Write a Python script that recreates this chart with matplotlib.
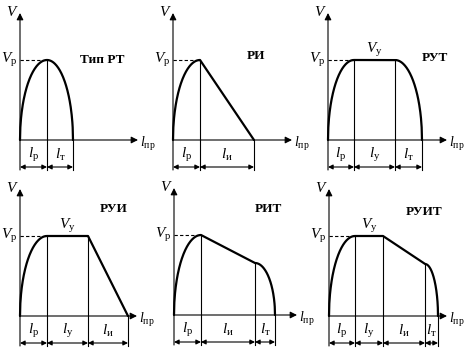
import numpy as np
import matplotlib
matplotlib.use('Agg')
import matplotlib.pyplot as plt

plt.rcParams['font.family'] = ['Liberation Serif', 'DejaVu Serif']
plt.rcParams['mathtext.fontset'] = 'custom'
plt.rcParams['mathtext.rm'] = 'Liberation Serif'
plt.rcParams['mathtext.it'] = 'Liberation Serif:italic'

# profile data (lengths in drawing units, V_p = 80)
titles = ['Тип РТ', 'РИ', 'РУТ', 'РУИ', 'РИТ', 'РУИТ']
phases = [['р', 'т'], ['р', 'и'], ['р', 'у', 'т'], ['р', 'у', 'и'],
          ['р', 'и', 'т'], ['р', 'у', 'и', 'т']]
lengths = [[27, 26], [27, 54], [26, 41, 27], [27, 41, 40],
           [27, 54, 20], [26, 28, 42, 13]]
v_p = 80
v_inertia_end = [None, 0, None, 0, 52, 52]
x_axis_len = [118, 119, 119, 117, 123, 118]
y_axis_len = 127

# layout: pixel origin of each panel, title position
origins = [(20, 140), (173, 140), (328, 140), (20, 316), (174, 315), (329, 316)]
title_pos = [(82, 80), (83, 84), (107, 82), (94, 107), (94, 106), (95, 104)]

W, H = 468, 352
fig = plt.figure(figsize=(W / 100, H / 100), dpi=100)

for i in range(6):
    ox, oy = origins[i]
    ax = fig.add_axes([(ox - 20) / W, (H - (oy + 40)) / H, 170 / W, 180 / H])
    ax.set_xlim(-20, 150)
    ax.set_ylim(-40, 140)
    ax.axis('off')
    ax.patch.set_alpha(0)

    xs, ys = [], []
    bounds = [0]
    vtop = []
    x0, v = 0, 0
    for ph, L in zip(phases[i], lengths[i]):
        t = np.linspace(0, 1, 80)
        if ph == 'р':
            y = v_p * np.sqrt(1 - (1 - t) ** 2)
            v = v_p
        elif ph == 'у':
            y = np.full_like(t, v)
        elif ph == 'и':
            ve = v_inertia_end[i]
            y = v + (ve - v) * t
            v = ve
        else:
            y = v * np.sqrt(1 - t ** 2)
            v = 0
        xs.append(x0 + L * t)
        ys.append(y)
        x0 += L
        bounds.append(x0)
        vtop.append(v)
    xs = np.concatenate(xs)
    ys = np.concatenate(ys)
    ax.plot(xs, ys, color='k', lw=1.6, solid_capstyle='round', zorder=3)

    # axes with arrows
    ax.annotate('', xy=(x_axis_len[i], 0), xytext=(0, 0),
                arrowprops=dict(arrowstyle='-|>', color='k', lw=0.8,
                                mutation_scale=10, shrinkA=0, shrinkB=0))
    ax.annotate('', xy=(0, y_axis_len), xytext=(0, -30),
                arrowprops=dict(arrowstyle='-|>', color='k', lw=0.8,
                                mutation_scale=10, shrinkA=0, shrinkB=0))

    # boundary lines
    for b, vt in zip(bounds[1:], vtop):
        ax.plot([b, b], [vt, -30], color='k', lw=0.8)

    # dashed V_p level
    ax.plot([0, lengths[i][0]], [v_p, v_p], color='k', lw=0.8, ls=(0, (3, 2)))

    # dimension arrows and labels
    for a, b, ph in zip(bounds[:-1], bounds[1:], phases[i]):
        ax.annotate('', xy=(b, -27), xytext=(a, -27),
                    arrowprops=dict(arrowstyle='<|-|>', color='k', lw=0.8,
                                    mutation_scale=7, shrinkA=0, shrinkB=0))
        ax.text((a + b) / 2, -15, r'$l_{\mathrm{%s}}$' % ph, fontsize=11,
                ha='center', va='center')

    # plateau speed label
    if 'у' in phases[i]:
        k = phases[i].index('у')
        ax.text((bounds[k] + bounds[k + 1]) / 2, v_p + 10, r'$V_{\mathrm{у}}$',
                fontsize=11, ha='center', va='center')

    ax.text(-3, v_p, r'$V_{\mathrm{р}}$', fontsize=11, ha='right', va='center')
    ax.text(-8, y_axis_len + 1, r'$V$', fontsize=11, ha='center', va='center')
    ax.text(x_axis_len[i] + 2, -4, r'$l_{\mathrm{пр}}$', fontsize=10,
            ha='left', va='center')
    tx, ty = title_pos[i]
    ax.text(tx, ty, titles[i], fontsize=9.5, fontweight='bold',
            ha='center', va='center')

fig.savefig('out.png', dpi=100, facecolor='white')
